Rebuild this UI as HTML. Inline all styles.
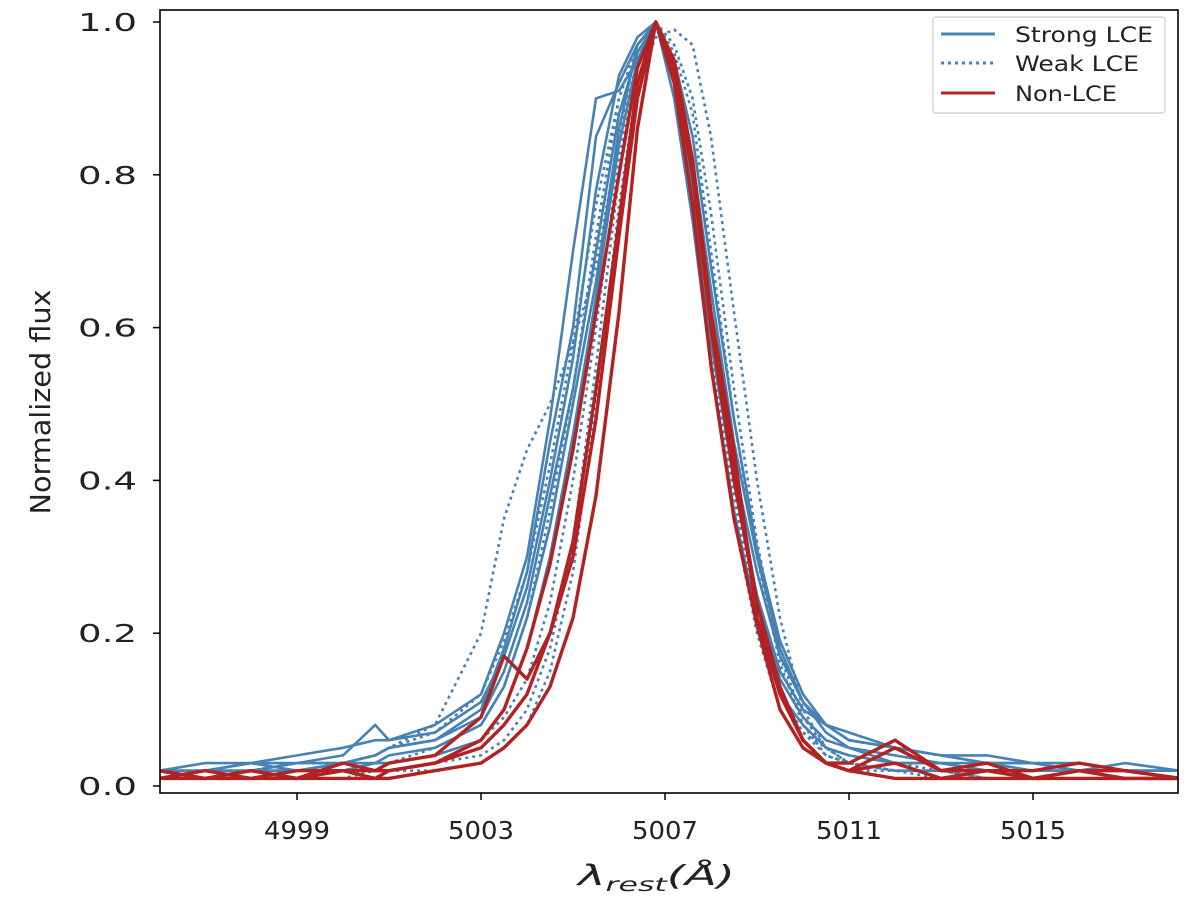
<!DOCTYPE html>
<html><head><meta charset="utf-8"><style>
html,body{margin:0;padding:0;background:#fff;}
svg{display:block;font-family:"DejaVu Sans","Liberation Sans",sans-serif;}
</style></head><body>
<svg id="chart" width="1200" height="902" viewBox="0 0 1200 902">
<defs><clipPath id="clip"><rect x="160" y="10" width="1018" height="783"/></clipPath></defs>
<g id="series" clip-path="url(#clip)"></g>
<rect x="160" y="10" width="1018" height="783" fill="none" stroke="#000" stroke-width="1.6"/>
<g id="xticks"></g>
<g id="yticks"></g>
<text x="578" y="885" font-size="28" font-style="italic" fill="#222" textLength="157" lengthAdjust="spacingAndGlyphs">λ<tspan font-size="19" dy="6">rest</tspan><tspan dy="-6">(Å)</tspan></text>
<text transform="translate(50,402) rotate(-90)" text-anchor="middle" font-size="28" fill="#222" textLength="225" lengthAdjust="spacingAndGlyphs">Normalized flux</text>
<g>
<rect x="933" y="17" width="232" height="96" fill="#fff" fill-opacity="0.85" stroke="#ccc" stroke-width="1.2" rx="3"/>
<line x1="941" y1="34" x2="995" y2="34" stroke="#4682b4" stroke-width="3"/>
<text x="1015" y="42" font-size="21" fill="#222" textLength="138" lengthAdjust="spacingAndGlyphs">Strong LCE</text>
<line x1="941" y1="63" x2="995" y2="63" stroke="#4682b4" stroke-width="3" stroke-dasharray="3,4"/>
<text x="1015" y="71" font-size="21" fill="#222" textLength="124" lengthAdjust="spacingAndGlyphs">Weak LCE</text>
<line x1="941" y1="93" x2="995" y2="93" stroke="#b22222" stroke-width="3"/>
<text x="1015" y="101" font-size="21" fill="#222" textLength="102" lengthAdjust="spacingAndGlyphs">Non-LCE</text>
</g>
</svg>
<script>
const wave = [4996,4997,4998,4999,5000,5000.7,5001,5002,5003,5003.5,5004,5004.5,5005,5005.5,5006,5006.4,5006.8,5007.2,5007.6,5008,5008.5,5009,5009.5,5010,5010.5,5011,5012,5013,5014,5015,5016,5017,5018.2];
const strong = [
[0.02,0.02,0.03,0.03,0.04,0.08,0.06,0.08,0.12,0.20,0.30,0.48,0.70,0.90,0.91,0.95,1.0,0.92,0.78,0.60,0.40,0.25,0.15,0.10,0.08,0.06,0.05,0.04,0.03,0.03,0.02,0.03,0.02],
[0.01,0.02,0.02,0.03,0.03,0.04,0.05,0.06,0.10,0.18,0.28,0.45,0.60,0.85,0.92,0.97,1.0,0.93,0.80,0.62,0.42,0.28,0.17,0.11,0.08,0.06,0.05,0.04,0.04,0.03,0.03,0.02,0.02],
[0.02,0.02,0.03,0.02,0.03,0.04,0.05,0.06,0.09,0.15,0.24,0.38,0.52,0.70,0.88,0.96,1.0,0.92,0.78,0.58,0.40,0.24,0.14,0.09,0.06,0.05,0.04,0.03,0.03,0.02,0.02,0.02,0.02],
[0.01,0.02,0.02,0.02,0.03,0.03,0.04,0.05,0.08,0.13,0.22,0.34,0.50,0.66,0.86,0.97,1.0,0.90,0.74,0.55,0.36,0.22,0.12,0.08,0.05,0.04,0.03,0.03,0.02,0.02,0.02,0.02,0.02],
[0.01,0.01,0.02,0.02,0.02,0.03,0.03,0.04,0.06,0.10,0.18,0.30,0.46,0.64,0.84,0.95,1.0,0.94,0.82,0.65,0.45,0.30,0.18,0.11,0.07,0.05,0.03,0.03,0.02,0.02,0.02,0.01,0.01],
[0.02,0.03,0.03,0.04,0.05,0.06,0.06,0.07,0.11,0.17,0.26,0.40,0.56,0.78,0.93,0.98,1.0,0.95,0.85,0.68,0.48,0.31,0.19,0.12,0.08,0.07,0.05,0.04,0.03,0.03,0.02,0.02,0.02]
];
const weak = [
[0.01,0.02,0.02,0.03,0.03,0.04,0.05,0.08,0.20,0.35,0.44,0.50,0.58,0.68,0.85,0.95,1.0,0.92,0.75,0.55,0.35,0.20,0.10,0.05,0.03,0.02,0.02,0.02,0.01,0.01,0.01,0.01,0.01],
[0.01,0.01,0.01,0.02,0.02,0.02,0.03,0.04,0.06,0.09,0.14,0.24,0.40,0.60,0.82,0.95,1.0,0.96,0.88,0.70,0.48,0.30,0.16,0.08,0.04,0.03,0.02,0.02,0.01,0.01,0.01,0.01,0.01],
[0.01,0.01,0.01,0.01,0.02,0.02,0.02,0.03,0.04,0.06,0.10,0.18,0.32,0.55,0.80,0.94,1.0,0.97,0.90,0.75,0.52,0.32,0.17,0.09,0.05,0.03,0.02,0.02,0.01,0.01,0.01,0.01,0.01],
[0.01,0.01,0.02,0.02,0.02,0.03,0.03,0.05,0.08,0.13,0.22,0.36,0.52,0.72,0.90,0.97,1.0,0.93,0.78,0.58,0.38,0.22,0.12,0.07,0.04,0.03,0.02,0.02,0.02,0.01,0.01,0.01,0.01],
[0.01,0.01,0.01,0.01,0.01,0.02,0.02,0.02,0.03,0.05,0.08,0.15,0.28,0.50,0.76,0.92,0.98,0.99,0.97,0.85,0.62,0.40,0.22,0.10,0.05,0.03,0.02,0.01,0.01,0.01,0.01,0.01,0.01],
[0.02,0.02,0.02,0.03,0.03,0.04,0.05,0.07,0.12,0.19,0.28,0.42,0.58,0.76,0.90,0.97,1.0,0.92,0.76,0.56,0.36,0.21,0.12,0.07,0.05,0.04,0.03,0.02,0.02,0.02,0.02,0.01,0.01]
];
const nonlce = [
[0.01,0.02,0.01,0.02,0.02,0.02,0.03,0.04,0.09,0.17,0.14,0.20,0.30,0.48,0.72,0.90,1.0,0.92,0.76,0.55,0.35,0.21,0.10,0.05,0.03,0.02,0.05,0.02,0.03,0.01,0.02,0.02,0.01],
[0.02,0.01,0.02,0.01,0.02,0.01,0.02,0.03,0.06,0.10,0.18,0.29,0.44,0.62,0.80,0.94,1.0,0.95,0.82,0.62,0.42,0.24,0.12,0.06,0.03,0.02,0.03,0.01,0.02,0.01,0.02,0.01,0.01],
[0.01,0.01,0.01,0.01,0.01,0.01,0.01,0.02,0.03,0.05,0.08,0.13,0.22,0.38,0.62,0.86,1.0,0.94,0.80,0.60,0.40,0.24,0.13,0.06,0.03,0.02,0.01,0.01,0.01,0.01,0.01,0.01,0.01],
[0.02,0.01,0.02,0.01,0.03,0.02,0.02,0.03,0.05,0.08,0.12,0.20,0.32,0.52,0.74,0.92,1.0,0.93,0.80,0.62,0.44,0.22,0.12,0.06,0.03,0.03,0.06,0.02,0.02,0.02,0.03,0.02,0.01]
];
const xTicks = [4999,5003,5007,5011,5015];
const yTicks = [0.0,0.2,0.4,0.6,0.8,1.0];
const NS='http://www.w3.org/2000/svg';
const xs = v => 297 + (v-4999)*(665-297)/8;
const ys = v => 786 - v*764;
const g = document.getElementById('series');
function draw(arr, color, dash, name, w){
  arr.forEach((s,i)=>{
    const p=document.createElementNS(NS,'polyline');
    p.setAttribute('points', s.map((v,j)=>xs(wave[j]).toFixed(1)+','+ys(v).toFixed(1)).join(' '));
    p.setAttribute('fill','none');p.setAttribute('stroke',color);p.setAttribute('stroke-width',w);
    if(dash)p.setAttribute('stroke-dasharray',dash);
    p.setAttribute('stroke-linejoin','round');
    
    
    g.appendChild(p);
  });
}
draw(strong,'#4682b4',null,'strong-lce',2.6);
draw(weak,'#4682b4','3,4','weak-lce',2.6);
draw(nonlce,'#b22222',null,'non-lce',3.4);
const xt=document.getElementById('xticks'), yt=document.getElementById('yticks');
xTicks.forEach(t=>{
  const l=document.createElementNS(NS,'line');
  l.setAttribute('x1',xs(t));l.setAttribute('x2',xs(t));l.setAttribute('y1',793);l.setAttribute('y2',800);l.setAttribute('stroke','#000');l.setAttribute('stroke-width',1.5);
  
  
  xt.appendChild(l);
  const tx=document.createElementNS(NS,'text');
  tx.setAttribute('x',xs(t)-33);tx.setAttribute('y',839);tx.setAttribute('font-size','25');tx.setAttribute('fill','#222');
  tx.setAttribute('textLength','66');tx.setAttribute('lengthAdjust','spacingAndGlyphs');
  tx.textContent=t;
  
  
  xt.appendChild(tx);
});
yTicks.forEach(t=>{
  const l=document.createElementNS(NS,'line');
  l.setAttribute('x1',153);l.setAttribute('x2',160);l.setAttribute('y1',ys(t));l.setAttribute('y2',ys(t));l.setAttribute('stroke','#000');l.setAttribute('stroke-width',1.5);
  
  
  yt.appendChild(l);
  const tx=document.createElementNS(NS,'text');
  tx.setAttribute('x',78);tx.setAttribute('y',ys(t)+9);tx.setAttribute('font-size','25');tx.setAttribute('fill','#222');
  tx.setAttribute('textLength','59');tx.setAttribute('lengthAdjust','spacingAndGlyphs');
  tx.textContent=t.toFixed(1);
  
  
  yt.appendChild(tx);
});
</script>
</body></html>
